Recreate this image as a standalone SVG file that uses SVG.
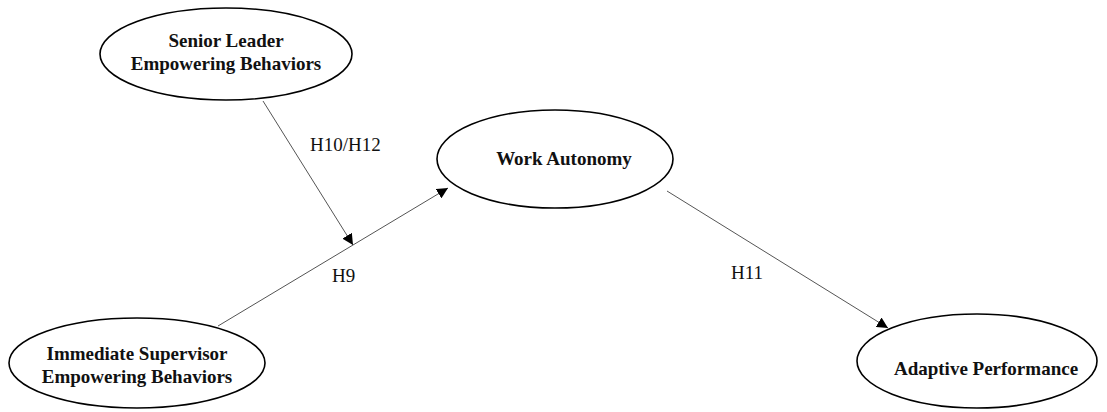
<svg xmlns="http://www.w3.org/2000/svg" width="1107" height="412" viewBox="0 0 1107 412">
  <style>
    .node ellipse { fill: #ffffff; stroke: #000000; stroke-width: 1.6; }
    .node text { font-family: "Liberation Serif", "Times New Roman", serif; font-weight: bold; font-size: 19px; fill: #111111; text-anchor: middle; }
    .edge { stroke: #555555; stroke-width: 1; fill: none; marker-end: url(#arrow); }
    .label { font-family: "Liberation Serif", "Times New Roman", serif; font-size: 19px; fill: #111111; }
  </style>
  <defs>
    <marker id="arrow" viewBox="0 0 10 10" refX="10" refY="5" markerWidth="11" markerHeight="11" markerUnits="userSpaceOnUse" orient="auto">
      <path d="M0,0 L10,5 L0,10 Z" fill="#000000"/>
    </marker>
  </defs>
  <rect width="1107" height="412" fill="#ffffff"/>

  <g id="connectors">
    <line class="edge" x1="263" y1="101" x2="353" y2="245"/>
    <line class="edge" x1="218" y1="326" x2="448" y2="188"/>
    <line class="edge" x1="667" y1="191" x2="888" y2="328"/>
    <text class="label" x="310" y="151">H10/H12</text>
    <text class="label" x="332" y="282">H9</text>
    <text class="label" x="731" y="279">H11</text>
  </g>

  <g id="senior-leader" class="node">
    <ellipse cx="226" cy="54" rx="126" ry="46"/>
    <text x="226" y="47">Senior Leader</text>
    <text x="226" y="70">Empowering Behaviors</text>
  </g>

  <g id="immediate-supervisor" class="node">
    <ellipse cx="137" cy="363" rx="128" ry="45"/>
    <text x="137" y="360">Immediate Supervisor</text>
    <text x="137" y="383">Empowering Behaviors</text>
  </g>

  <g id="work-autonomy" class="node">
    <ellipse cx="555" cy="159" rx="118" ry="49"/>
    <text x="564" y="165">Work Autonomy</text>
  </g>

  <g id="adaptive-performance" class="node">
    <ellipse cx="977" cy="361" rx="120" ry="47"/>
    <text x="986" y="375">Adaptive Performance</text>
  </g>
</svg>
